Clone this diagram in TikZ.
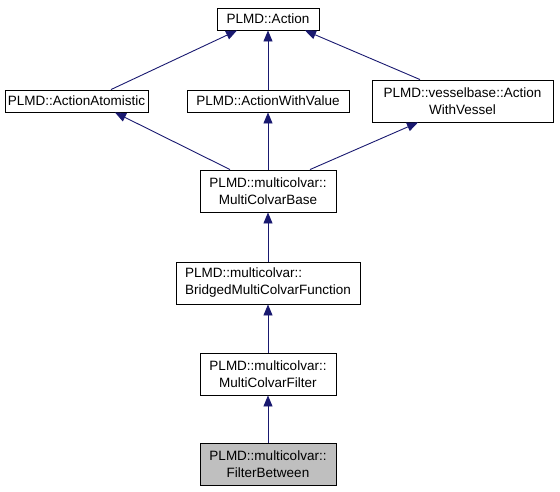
\documentclass[tikz,border=0pt]{standalone}
\usepackage{fontspec}
\setmainfont{Liberation Sans}
\usetikzlibrary{arrows.meta}
\definecolor{edgeblue}{HTML}{191970}
\definecolor{curgray}{HTML}{BFBFBF}
\tikzset{
  cls/.style={
    draw=black,
    fill=white,
    line width=0.9pt,
    inner sep=0pt,
    align=center,
    font=\fontsize{13.5}{17}\selectfont
  },
  onecls/.style={
    cls,
    minimum height=22pt
  },
  twocls/.style={
    cls,
    minimum height=42pt
  },
  inherit/.style={
    draw=edgeblue,
    line width=0.9pt,
    -{Triangle[length=11pt,width=9pt]}
  }
}
\begin{document}
\begin{tikzpicture}[x=1pt,y=1pt]
  \useasboundingbox (0,0) rectangle (560,-491);
  % top row
  \node[onecls,minimum width=102pt] (act) at (268,-19) {PLMD::Action};
  \node[onecls,minimum width=143pt] (aat) at (76.5,-101) {PLMD::ActionAtomistic};
  \node[onecls,minimum width=162pt] (awv) at (268,-101) {PLMD::ActionWithValue};
  \node[twocls,minimum width=181pt] (avs) at (462.5,-101) {PLMD::vesselbase::Action\\WithVessel};
  % multicolvar chain
  \node[twocls,minimum width=136pt] (mcb) at (268,-191) {PLMD::multicolvar::\\MultiColvarBase};
  \node[twocls,minimum width=184pt,align=left] (bmf) at (268,-283) {PLMD::multicolvar::\\BridgedMultiColvarFunction};
  \node[twocls,minimum width=136pt] (mcf) at (268,-374) {PLMD::multicolvar::\\MultiColvarFilter};
  \node[twocls,minimum width=136pt,fill=curgray] (fbt) at (268,-464) {PLMD::multicolvar::\\FilterBetween};
  % edges
  \draw[inherit] ([xshift=34.5pt]aat.north) -- ([xshift=-31pt]act.south);
  \draw[inherit] (awv.north) -- (act.south);
  \draw[inherit] ([xshift=-42.5pt]avs.north) -- ([xshift=37pt]act.south);
  \draw[inherit] ([xshift=-38pt]mcb.north) -- ([xshift=38.5pt]aat.south);
  \draw[inherit] (mcb.north) -- (awv.south);
  \draw[inherit] ([xshift=42pt]mcb.north) -- ([xshift=-44.5pt]avs.south);
  \draw[inherit] (bmf.north) -- (mcb.south);
  \draw[inherit] (mcf.north) -- (bmf.south);
  \draw[inherit] (fbt.north) -- (mcf.south);
\end{tikzpicture}
\end{document}
